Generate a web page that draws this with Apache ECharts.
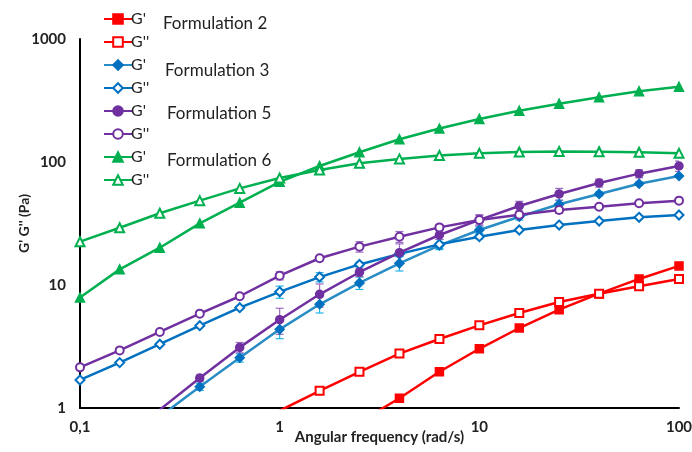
<!DOCTYPE html>
<html>
<head>
<meta charset="utf-8">
<script src="https://cdn.jsdelivr.net/npm/echarts@6/dist/echarts.min.js"></script>
<style>
  html, body { margin: 0; padding: 0; background: #fff; }
  #chart { width: 692px; height: 452px; }
</style>
</head>
<body>
<div id="chart"></div>
<script>
// angular frequency (rad/s), 5 points per decade
var freq = [0.1, 0.158, 0.251, 0.398, 0.631, 1, 1.585, 2.51, 3.98, 6.31, 10, 15.85, 25.1, 39.8, 63.1, 100];

// Formulation 2
var f2_Gp  = [null, null, null, null, null, null, null, 0.77, 1.2, 1.97, 3.03, 4.47, 6.3, 8.5, 11.2, 14.3];
var f2_Gpp = [null, null, null, null, null, 0.95, 1.38, 1.97, 2.77, 3.64, 4.7, 5.92, 7.28, 8.5, 9.75, 11.2];
// Formulation 3
var f3_Gp  = [null, null, 0.85, 1.49, 2.56, 4.36, 6.97, 10.4, 15, 21, 28, 35.9, 45.3, 55, 66.6, 77];
var f3_Gpp = [1.69, 2.34, 3.3, 4.67, 6.54, 8.8, 11.6, 14.7, 17.9, 21.4, 24.7, 28, 30.7, 33.1, 35.5, 37.1];
// Formulation 5
var f5_Gp  = [null, null, 0.97, 1.75, 3.11, 5.22, 8.4, 12.7, 18.3, 25.5, 33.8, 43.9, 55, 67.5, 80.4, 92.8];
var f5_Gpp = [2.14, 2.94, 4.15, 5.85, 8.1, 11.9, 16.5, 20.5, 24.7, 29.4, 33.8, 37.3, 40.7, 43.3, 46.2, 48.5];
// Formulation 6
var f6_Gp  = [7.9, 13.4, 20.1, 31.7, 46.7, 69, 92.8, 120, 153, 187, 224, 261, 298, 336, 376, 409];
var f6_Gpp = [22.5, 29.2, 38.3, 48.5, 61, 74, 86, 97.6, 106, 113, 117.6, 120.6, 122, 121, 120, 117.6];

// error bars (+/- Pa)
var f3_Gp_err  = [0, 0, 0, 0.1, 0.2, 0.7, 1.05, 1.2, 2, 1.2, 1.7, 2.2, 3.5, 2, 2, 2];
var f3_Gpp_err = [0, 0, 0, 0.1, 0.2, 1, 1, 0.6, 0.8, 2, 1, 0.8, 0.8, 0.8, 0.8, 0.8];
var f5_Gp_err  = [0, 0, 0, 0.1, 0.3, 1.25, 1.8, 1, 3.3, 2, 3, 4, 6, 5, 6, 9];
var f5_Gpp_err = [0, 0, 0, 0.2, 0.3, 0.9, 0.6, 2, 2.5, 1.5, 3.5, 1.5, 2.5, 1.5, 1.5, 1.5];

var groupLabels = ['Formulation 2', 'Formulation 3', 'Formulation 5', 'Formulation 6'];

var RED = '#FF0000', BLUE = '#0070C0', PURPLE = '#7030A0', GREEN = '#00B050';

function pairs(vals) {
  return freq.map(function (f, i) { return [f, vals[i]]; });
}

function errData(vals, err) {
  var out = [];
  freq.forEach(function (f, i) {
    if (vals[i] != null && err[i] > 0) out.push([f, vals[i] - err[i], vals[i] + err[i]]);
  });
  return out;
}

function lineSeries(name, vals, color, symbol, size, lineColor) {
  return {
    name: name,
    type: 'line',
    data: pairs(vals),
    symbol: symbol,
    symbolSize: size,
    showAllSymbol: true,
    connectNulls: false,
    clip: true,
    lineStyle: { color: lineColor || color, width: 2.5 },
    itemStyle: { color: color, borderColor: color, borderWidth: 1.5 },
    emphasis: { disabled: true },
    z: 3
  };
}

function errSeries(vals, err, color) {
  return {
    type: 'custom',
    data: errData(vals, err),
    clip: true,
    silent: true,
    z: 2,
    renderItem: function (params, api) {
      var top = api.coord([api.value(0), api.value(2)]);
      var bot = api.coord([api.value(0), api.value(1)]);
      var w = 4;
      var st = { stroke: color, lineWidth: 1.2 };
      return {
        type: 'group',
        children: [
          { type: 'line', shape: { x1: top[0], y1: top[1], x2: bot[0], y2: bot[1] }, style: st },
          { type: 'line', shape: { x1: top[0] - w, y1: top[1], x2: top[0] + w, y2: top[1] }, style: st },
          { type: 'line', shape: { x1: bot[0] - w, y1: bot[1], x2: bot[0] + w, y2: bot[1] }, style: st }
        ]
      };
    }
  };
}

var font = 'Lato, "Open Sans", sans-serif';

var option = {
  animation: false,
  backgroundColor: '#fff',
  grid: { left: 80, right: 13, top: 39, bottom: 44, outerBoundsMode: 'none', containLabel: false },
  legend: {
    orient: 'vertical',
    left: 98,
    top: 6,
    itemGap: 7,
    itemWidth: 28,
    itemHeight: 12,
    textStyle: { fontFamily: font, fontSize: 16, color: '#222', padding: [0, 0, 0, -6] },
    formatter: function (n) { return n.split(' ')[1]; },
    selectedMode: false
  },
  xAxis: {
    type: 'log',
    logBase: 10,
    min: 0.1,
    max: 100,
    name: 'Angular frequency (rad/s)',
    nameLocation: 'middle',
    nameGap: 22,
    nameMoveOverlap: false,
    nameTextStyle: { fontFamily: font, fontSize: 15, fontWeight: 'bold', color: '#222' },
    axisLine: { lineStyle: { color: '#000', width: 2 } },
    axisTick: { show: false },
    splitLine: { show: false },
    minorTick: { show: false },
    axisLabel: {
      fontFamily: font, fontSize: 15, fontWeight: 'bold', color: '#222', margin: 12,
      formatter: function (v) { return String(+v.toPrecision(3)).replace('.', ','); }
    }
  },
  yAxis: {
    type: 'log',
    logBase: 10,
    min: 1,
    max: 1000,
    name: "G' G'' (Pa)",
    nameLocation: 'middle',
    nameRotate: 90,
    nameGap: 49,
    nameMoveOverlap: false,
    nameTextStyle: { fontFamily: font, fontSize: 14, fontWeight: 'bold', color: '#222' },
    axisLine: { show: true, lineStyle: { color: '#000', width: 2 } },
    axisTick: { show: false },
    splitLine: { show: false },
    axisLabel: {
      fontFamily: font, fontSize: 15, fontWeight: 'bold', color: '#222', margin: 14,
      formatter: function (v) { return String(Math.round(v)); }
    }
  },
  graphic: groupLabels.map(function (t, i) {
    var ys = [25, 72, 115, 162];
    var xs = [163, 165, 167, 167];
    return {
      type: 'text',
      left: xs[i],
      top: ys[i] - 10,
      style: { text: t, fontFamily: font, fontSize: 17, fill: '#222' }
    };
  }),
  series: [
    lineSeries("F2 G'", f2_Gp, RED, 'rect', 8),
    lineSeries("F2 G''", f2_Gpp, RED, 'emptyRect', 8),
    lineSeries("F3 G'", f3_Gp, BLUE, 'diamond', 9, '#2a8cc4'),
    lineSeries("F3 G''", f3_Gpp, BLUE, 'emptyDiamond', 9),
    lineSeries("F5 G'", f5_Gp, PURPLE, 'circle', 8),
    lineSeries("F5 G''", f5_Gpp, PURPLE, 'emptyCircle', 8),
    lineSeries("F6 G'", f6_Gp, GREEN, 'triangle', 9),
    lineSeries("F6 G''", f6_Gpp, GREEN, 'emptyTriangle', 9),
    errSeries(f3_Gp, f3_Gp_err, '#1fb3ea'),
    errSeries(f3_Gpp, f3_Gpp_err, '#1fb3ea'),
    errSeries(f5_Gp, f5_Gp_err, '#9a6cc2'),
    errSeries(f5_Gpp, f5_Gpp_err, '#9a6cc2')
  ]
};

var myChart = echarts.init(document.getElementById('chart'));
myChart.setOption(option);
</script>
</body>
</html>
